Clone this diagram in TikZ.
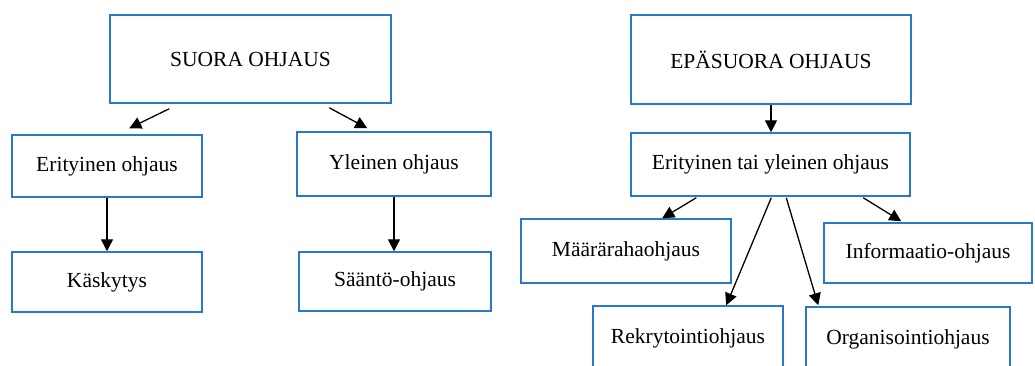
\documentclass[tikz,border=0pt]{standalone}
\usepackage{fontspec}
\setmainfont{Liberation Serif}
\usetikzlibrary{calc,arrows.meta}
\definecolor{boxblue}{RGB}{40,122,200}
\tikzset{
  box/.style={draw=boxblue, line width=1.5pt, fill=white, inner sep=0pt,
    font=\fontsize{21.5}{25}\selectfont, text=black},
  arr/.style={draw=black, line width=1.3pt, -{Triangle[length=12pt,width=12pt]}},
}
\begin{document}
\begin{tikzpicture}[x=1pt,y=-1pt]
\clip (0,0) rectangle (1035,365);
\fill[white] (0,0) rectangle (1035,365);
% left tree
\node[box, minimum width=281pt, minimum height=88pt] (suora) at (250.5,59) {SUORA OHJAUS};
\node[box, minimum width=190pt, minimum height=62pt] (erit) at (107,166) {Erityinen ohjaus};
\node[box, minimum width=194pt, minimum height=64pt] (yleinen) at (394,164) {Yleinen ohjaus};
\node[box, minimum width=190pt, minimum height=60pt] (kasky) at (107,282) {Käskytys};
\node[box, minimum width=192pt, minimum height=59pt] (saanto) at (395,281.5) {Sääntö-ohjaus};
% right tree
\node[box, minimum width=280pt, minimum height=89pt] (epa) at (771,59.5) {EPÄSUORA OHJAUS};
\node[box, minimum width=279pt, minimum height=63pt] (eti) at (770.5,164.5) {Erityinen tai yleinen ohjaus};
\node[box, minimum width=210pt, minimum height=64pt] (maara) at (626,251) {Määrärahaohjaus};
\node[box, minimum width=208pt, minimum height=60pt] (info) at (928,253) {Informaatio-ohjaus};
\node[box, minimum width=190pt, minimum height=64pt] (rekry) at (688,338) {Rekrytointiohjaus};
\node[box, minimum width=204pt, minimum height=64pt] (organ) at (908,339) {Organisointiohjaus};
% connectors
\draw[arr] ($(suora.south west)+(60,5)$) -- ($(erit.north west)+(118,-6)$);
\draw[arr] ($(suora.south west)+(220,4)$) -- ($(yleinen.north west)+(71,-3)$);
\draw[arr] (erit.south) -- (erit.south |- kasky.north);
\draw[arr] (yleinen.south) -- (yleinen.south |- saanto.north);
\draw[arr] (epa.south) -- (epa.south |- eti.north);
\draw[arr] ($(eti.south west)+(66,1)$) -- ($(maara.north west)+(142,0)$);
\draw[arr] ($(eti.south west)+(141,1)$) -- ($(rekry.north west)+(134,0)$);
\draw[arr] ($(eti.south west)+(156,1)$) -- ($(organ.north west)+(13,-1)$);
\draw[arr] ($(eti.south west)+(233,1)$) -- ($(info.north west)+(78,-1)$);
\end{tikzpicture}
\end{document}
